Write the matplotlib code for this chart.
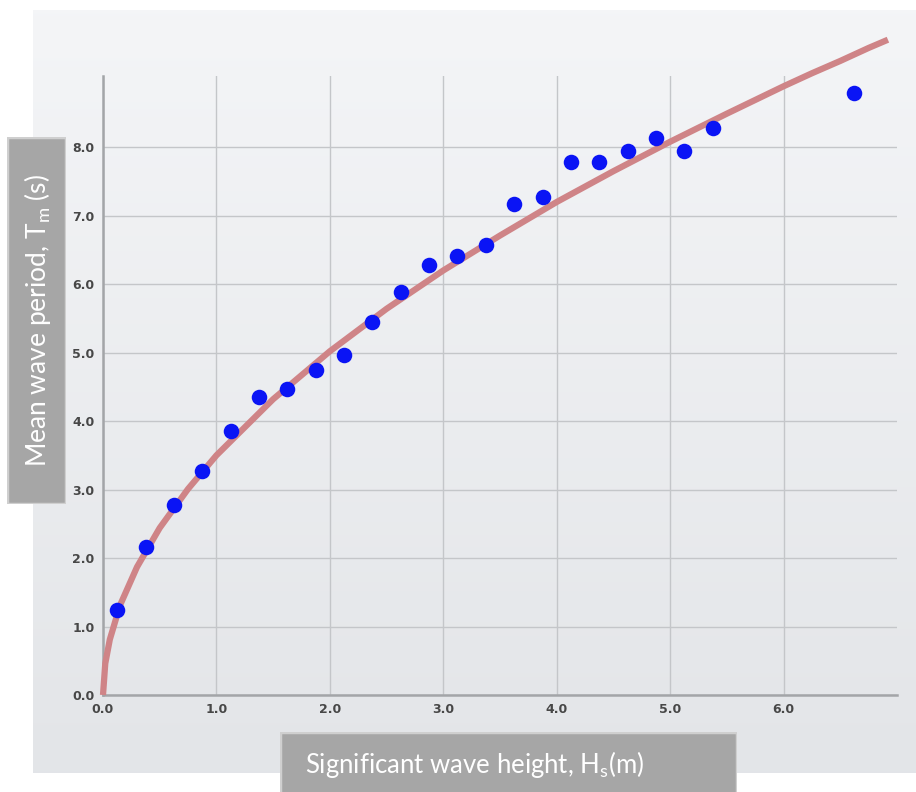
import matplotlib.pyplot as plt
import numpy as np
from matplotlib.patches import Rectangle

# scatter observations: significant wave height (m) vs mean wave period (s)
hs_obs = [0.125, 0.375, 0.625, 0.875, 1.125, 1.375, 1.625, 1.875, 2.125, 2.375,
          2.625, 2.875, 3.125, 3.375, 3.625, 3.875, 4.125, 4.375, 4.625, 4.875,
          5.125, 5.375, 6.625]
tm_obs = [1.24, 2.16, 2.77, 3.27, 3.85, 4.35, 4.47, 4.74, 4.96, 5.45,
          5.88, 6.28, 6.41, 6.57, 7.17, 7.28, 7.78, 7.78, 7.94, 8.13,
          7.94, 8.28, 8.79]

# trend curve
hs_curve = [0.0, 0.02, 0.06, 0.15, 0.3, 0.5, 0.75, 1.0, 1.5, 2.0, 2.5, 3.0,
            3.5, 4.0, 4.5, 5.0, 5.5, 6.0, 6.25, 6.5, 6.75, 6.92]
tm_curve = [0.0, 0.46, 0.81, 1.31, 1.87, 2.44, 3.01, 3.5, 4.32, 5.02, 5.64, 6.20,
            6.71, 7.20, 7.65, 8.08, 8.49, 8.89, 9.08, 9.26, 9.45, 9.57]

x_ticks = [0.0, 1.0, 2.0, 3.0, 4.0, 5.0, 6.0]
y_ticks = [0.0, 1.0, 2.0, 3.0, 4.0, 5.0, 6.0, 7.0, 8.0]

W, H = 916, 792
fig = plt.figure(figsize=(W / 100, H / 100), dpi=100)


def fr(x0, y0, x1, y1):
    """pixel box (top-left origin) -> figure fraction rect"""
    return [x0 / W, 1 - y1 / H, (x1 - x0) / W, (y1 - y0) / H]


# gradient panel behind the chart
bg = fig.add_axes(fr(33, 10, 916, 773))
grad = np.linspace(0, 1, 256).reshape(-1, 1)
top = np.array([0.957, 0.961, 0.969])
bot = np.array([0.890, 0.898, 0.910])
img = top + (bot - top) * grad[..., None]
bg.imshow(img, aspect='auto', extent=[0, 1, 0, 1])
bg.set_axis_off()

ax = fig.add_axes(fr(103, 76, 897, 695))
ax.set_facecolor('none')
ax.set_xlim(0, 7.0)
ax.set_ylim(0, 9.04)
ax.set_xticks(x_ticks)
ax.set_yticks(y_ticks)
ax.set_xticklabels([f'{v:.1f}' for v in x_ticks])
ax.set_yticklabels([f'{v:.1f}' for v in y_ticks])
ax.tick_params(length=0, labelsize=9, labelcolor='#474747', pad=6)
for lab in ax.get_xticklabels() + ax.get_yticklabels():
    lab.set_fontweight('bold')
ax.grid(True, color='#c4c6c9', linewidth=1.0)
ax.set_axisbelow(True)
for s in ['top', 'right']:
    ax.spines[s].set_visible(False)
for s in ['left', 'bottom']:
    ax.spines[s].set_color('#a3a5a8')
    ax.spines[s].set_linewidth(1.8)

ax.plot(hs_curve, tm_curve, color='#cf8487', linewidth=4.5,
        solid_capstyle='butt', clip_on=False, zorder=3)
ax.scatter(hs_obs, tm_obs, s=125, color='#0a14f5', zorder=4, clip_on=False,
           linewidths=0)

# label boxes
ybox = fig.add_axes(fr(7, 137, 66, 504))
ybox.set_xlim(0, 1)
ybox.set_ylim(0, 1)
ybox.add_patch(Rectangle((0, 0), 1, 1, facecolor='#a6a6a6', edgecolor='#cfcfcf',
                         linewidth=2.5, transform=ybox.transAxes))
ybox.text(0.52, 0.5, 'Mean wave period, T$_{\\mathregular{m}}$ (s)', rotation=90,
          ha='center', va='center', color='white', fontsize=19, family='Lato')
ybox.set_axis_off()

xbox = fig.add_axes(fr(280, 732, 737, 800))
xbox.set_xlim(0, 1)
xbox.set_ylim(0, 1)
xbox.add_patch(Rectangle((0, 0), 1, 1, facecolor='#a6a6a6', edgecolor='#cfcfcf',
                         linewidth=2.5, transform=xbox.transAxes))
xbox.text(0.055, 0.52, 'Significant wave height, H$_{\\mathregular{s}}$(m)',
          ha='left', va='center', color='white', fontsize=18.5, family='Lato')
xbox.set_axis_off()

fig.savefig('out.png', dpi=100)
